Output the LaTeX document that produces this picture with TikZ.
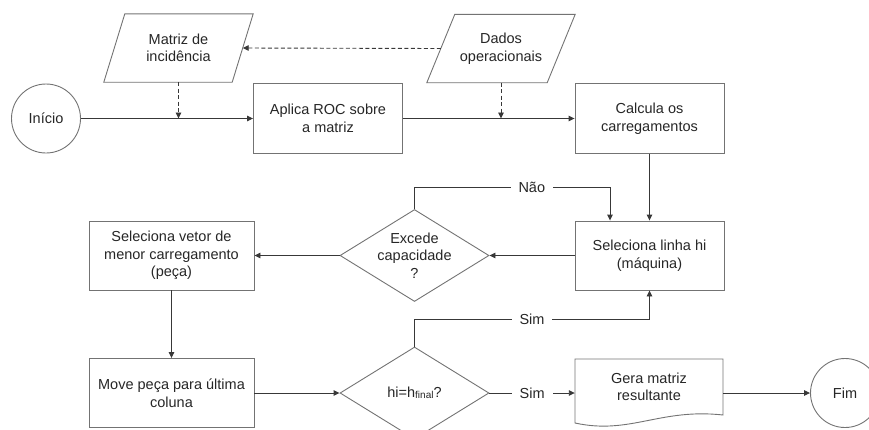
\documentclass[tikz,border=0pt]{standalone}
\usepackage{fontspec}
\setmainfont{Liberation Sans}
\usetikzlibrary{shapes.geometric,arrows.meta}
\begin{document}
\begin{tikzpicture}[x=1pt,y=-1pt,
  every node/.style={font=\fontsize{14.5}{17.5}\selectfont, text=black!85},
  shapeline/.style={draw=black!55, line width=0.9pt},
  proc/.style={shapeline, rectangle, minimum width=149pt, minimum height=70pt, align=center, inner sep=0pt},
  term/.style={shapeline, circle, minimum size=69pt, inner sep=0pt},
  iotext/.style={rectangle, minimum height=68pt, align=center, inner sep=0pt},
  decision/.style={shapeline, diamond, aspect=1.62, minimum width=149pt, minimum height=92pt, align=center, inner sep=0pt},
  flow/.style={draw=black!78, line width=0.9pt, -{Triangle[length=6pt,width=5.5pt]}},
  dataflow/.style={flow, dash pattern=on 4pt off 2.5pt},
  tag/.style={fill=white, inner xsep=8pt, inner ysep=2pt}
]
\useasboundingbox (0,0) rectangle (869,429);

% terminals
\node[term] (inicio) at (46,118.5) {Início};
\node[term] (fim) at (845,393) {Fim};

% data inputs: text body plus slanted outline (half slant added at each corner)
\node[iotext, minimum width=128pt] (matriz) at (178.5,48) {Matriz de\\incidência};
\draw[shapeline] ([xshift=-10.5pt]matriz.south west) -- ([xshift=-10.5pt]matriz.south east)
  -- ([xshift=10.5pt]matriz.north east) -- ([xshift=10.5pt]matriz.north west) -- cycle;
\node[iotext, minimum width=120pt] (dados) at (501,48.5) {Dados\\operacionais};
\draw[shapeline] ([xshift=-14pt]dados.south west) -- ([xshift=-14pt]dados.south east)
  -- ([xshift=14pt]dados.north east) -- ([xshift=14pt]dados.north west) -- cycle;

% processes
\node[proc] (aplica) at (328,118.5) {Aplica ROC sobre\\a matriz};
\node[proc] (calcula) at (649.5,118.5) {Calcula os\\carregamentos};
\node[proc, minimum height=69pt] (selL) at (649.5,255.5) {Seleciona linha hi\\(máquina)};
\node[proc, minimum width=165pt, minimum height=69pt] (selV) at (171.5,255.5) {Seleciona vetor de\\menor carregamento\\(peça)};
\node[proc, minimum width=165pt, minimum height=69pt] (move) at (171.5,393) {Move peça para última\\coluna};

% decisions
\node[decision] (excede) at (414.5,255.5) {Excede\\capacidade\\?};
\node[decision] (hi) at (414.5,393) {hi=h\raisebox{-1pt}{\fontsize{10}{10}\selectfont final}?};

% document output (wavy bottom edge)
\node[align=center, minimum width=148pt, inner sep=0pt] (gera) at (649,387) {Gera matriz\\resultante};
\draw[shapeline] (575,359) -- (723,359) -- (723,415)
  .. controls (660,408) and (630,435) .. (575,423) -- cycle;

% main flow
\draw[flow] (inicio) -- (aplica);
\draw[flow] (aplica) -- (calcula);
\draw[flow] (calcula) -- (selL);
\draw[flow] (selL) -- (excede);
\draw[flow] (excede) -- (selV);
\draw[flow] (selV) -- (move);
\draw[flow] (move) -- (hi);
\draw[flow] (hi.east) -- node[tag]{Sim} (hi.east -| gera.west);
\draw[flow] (fim -| 723,0) -- (fim);

% data flows
\coordinate (matrizDrop) at (matriz.south |- aplica.west);
\coordinate (dadosDrop) at (dados.south |- calcula.west);
\draw[dataflow] (dados.west) -- (matriz.east);
\draw[dataflow] (matriz.south) -- (matrizDrop);
\draw[dataflow] (dados.south) -- (dadosDrop);

% loop-backs
\coordinate (naoTurn) at (610,187);
\draw[flow] (excede.north) |- node[tag, pos=0.8]{Não} (naoTurn) -- (naoTurn |- selL.north);
\coordinate (simTurn) at (selL.south |- 0,319);
\draw[flow] (hi.north) |- node[tag, pos=0.75]{Sim} (simTurn) -- (selL.south);
\end{tikzpicture}
\end{document}
